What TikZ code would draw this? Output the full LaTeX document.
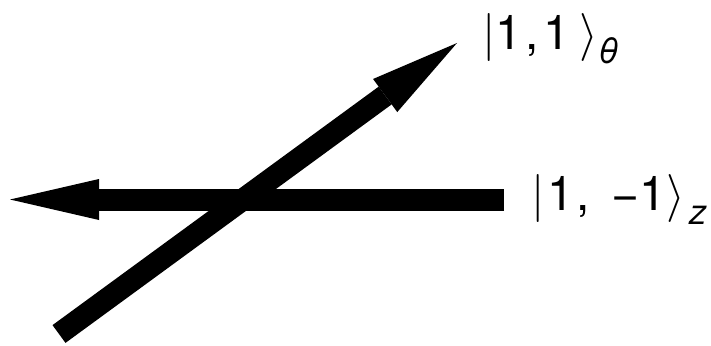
\documentclass[tikz,border=0pt]{standalone}
\usepackage{fix-cm}
\usepackage{fontspec}
\setmainfont{TeX Gyre Heros}
\usetikzlibrary{arrows.meta}
\newcommand{\ketsub}[1]{\raisebox{-14pt}{\fontsize{35}{40}\selectfont\textit{#1}}}
\tikzset{
  bigarrow/.style={line width=22pt, -{Triangle[length=89pt,width=41pt,line width=0pt]}},
  ketlabel/.style={anchor=base west, inner sep=0pt, font=\fontsize{48}{58}\selectfont}
}
\begin{document}
\begin{tikzpicture}[x=1pt,y=-1pt]
\useasboundingbox (0,0) rectangle (711,345);
\coordinate (dtail) at (59,334);
\coordinate (dtip) at (457,43);
\coordinate (htail) at (504,199.5);
\coordinate (htip) at (10,199.5);
\draw[bigarrow] (htail) -- (htip);
\draw[bigarrow] (dtail) -- (dtip);
\node[ketlabel] (l1) at (482,49) {$|$1\kern3pt,\kern5pt1\kern9pt$\rangle$\kern1pt\ketsub{θ}};
\node[ketlabel] (l2) at (531,210) {$|$\kern3pt1\kern2pt,\kern22pt−1$\rangle$\kern5pt\ketsub{z}};
\end{tikzpicture}
\end{document}
